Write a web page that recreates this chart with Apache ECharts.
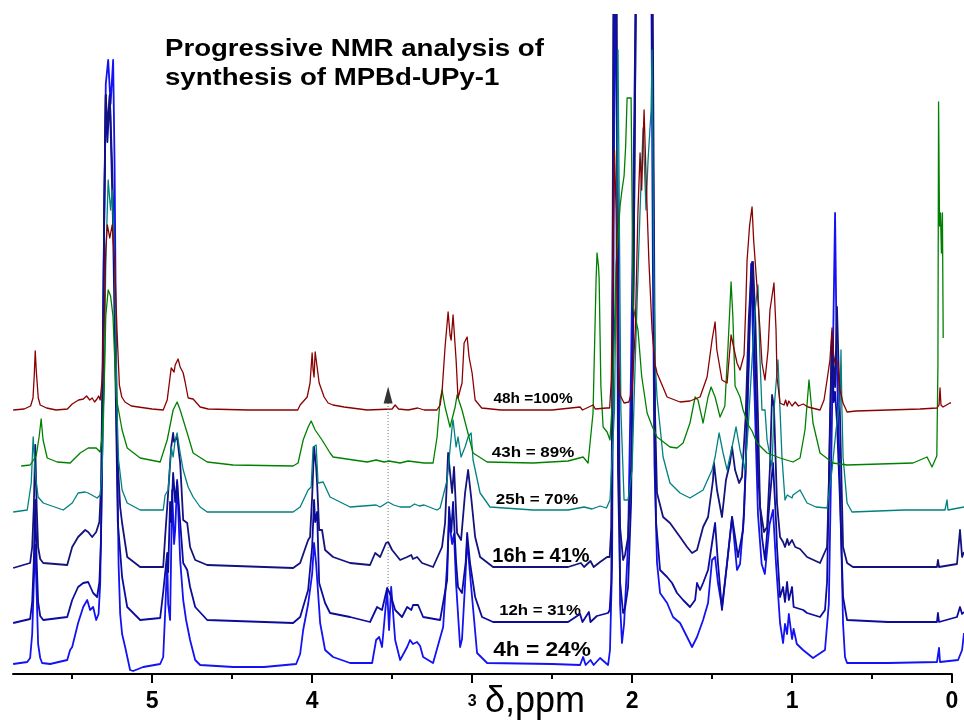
<!DOCTYPE html>
<html>
<head>
<meta charset="utf-8">
<script src="https://cdn.jsdelivr.net/npm/echarts@6/dist/echarts.min.js"></script>
<style>
  html, body { margin: 0; padding: 0; background: #fff; }
  #chart { width: 964px; height: 723px; }
</style>
</head>
<body>
<div id="chart"></div>
<script>
// Each trace: [chemical shift (ppm), intensity above that trace's own baseline]
const spec48h = [[5.869,0],[5.80,1],[5.76,4],[5.745,12],[5.737,35],[5.731,59],[5.724,38],[5.712,12],[5.70,5],[5.66,2],[5.60,0],[5.53,1],[5.50,6],[5.46,10],[5.43,11],[5.41,14],[5.39,10],[5.375,12],[5.36,8],[5.345,11],[5.335,14],[5.325,10],[5.313,30],[5.30,90],[5.29,160],[5.28,185],[5.265,172],[5.25,185],[5.235,150],[5.22,80],[5.205,25],[5.19,13],[5.17,8],[5.13,4],[5.0,1],[4.931,0],[4.906,10],[4.881,42],[4.875,42],[4.863,38],[4.856,45],[4.838,51],[4.825,43],[4.806,37],[4.794,28],[4.775,12],[4.744,11],[4.70,3],[4.65,1],[4.40,0],[4.09,0],[4.075,5],[4.031,13],[4.013,27],[4.0,57],[3.994,40],[3.988,33],[3.981,58],[3.969,60],[3.956,27],[3.944,28],[3.925,13],[3.90,7],[3.87,5],[3.80,3],[3.656,0],[3.50,1],[3.481,5],[3.46,1],[3.40,0],[3.34,2],[3.30,0],[3.22,0],[3.20,5],[3.188,18],[3.169,63],[3.15,98],[3.138,75],[3.131,70],[3.119,95],[3.10,50],[3.088,12],[3.063,27],[3.05,67],[3.031,73],[3.019,53],[3.00,37],[2.981,10],[2.94,2],[2.82,0],[2.50,0],[2.325,3],[2.31,0],[2.244,5],[2.23,1],[2.16,2],[2.14,2],[2.13,30],[2.12,150],[2.11,260],[2.10,200],[2.09,60],[2.075,15],[2.05,7],[2.02,8],[2.0,20],[1.98,80],[1.963,200],[1.95,257],[1.94,220],[1.925,300],[1.91,220],[1.895,150],[1.875,80],[1.856,45],[1.844,37],[1.781,13],[1.70,8],[1.638,9],[1.575,13],[1.531,33],[1.50,70],[1.481,88],[1.47,60],[1.438,30],[1.406,27],[1.381,75],[1.344,47],[1.325,40],[1.30,55],[1.29,100],[1.281,150],[1.265,185],[1.25,203],[1.24,170],[1.219,123],[1.20,80],[1.188,47],[1.169,30],[1.15,60],[1.138,100],[1.113,127],[1.10,80],[1.094,33],[1.075,7],[1.05,5],[1.04,10],[1.03,4],[1.02,9],[1.0,4],[0.98,8],[0.96,4],[0.93,6],[0.90,3],[0.825,0],[0.80,10],[0.781,30],[0.763,50],[0.75,82],[0.74,55],[0.731,47],[0.72,48],[0.713,48],[0.70,20],[0.681,7],[0.656,-2],[0.60,-1],[0.40,0],[0.20,1],[0.094,2],[0.081,5],[0.075,22],[0.069,5],[0.056,3],[0.013,7],[0.006,7]];

const spec43h = [[5.819,0],[5.763,1],[5.725,10],[5.706,30],[5.694,47],[5.682,26],[5.656,8],[5.594,4],[5.513,3],[5.45,13],[5.40,18],[5.35,18],[5.325,14],[5.313,30],[5.30,80],[5.29,150],[5.275,176],[5.26,170],[5.245,150],[5.235,110],[5.225,69],[5.188,36],[5.156,18],[5.075,8],[4.95,4],[4.906,26],[4.869,56],[4.844,64],[4.825,56],[4.781,33],[4.744,13],[4.656,4],[4.494,1],[4.119,0],[4.088,3],[4.056,26],[4.025,39],[4.006,45],[3.981,36],[3.938,26],[3.888,13],[3.869,9],[3.656,4],[3.60,6],[3.55,4],[3.52,5],[3.45,3],[3.40,5],[3.30,3],[3.244,3],[3.219,29],[3.20,66],[3.188,76],[3.169,59],[3.138,39],[3.106,59],[3.094,71],[3.063,56],[3.031,36],[2.994,13],[2.906,4],[2.619,3],[2.40,5],[2.306,9],[2.275,3],[2.244,53],[2.225,186],[2.219,213],[2.21,200],[2.206,188],[2.195,80],[2.181,39],[2.156,34],[2.138,26],[2.125,60],[2.113,120],[2.10,200],[2.075,260],[2.063,276],[2.05,290],[2.04,320],[2.031,368],[2.006,368],[1.994,160],[1.975,145],[1.963,136],[1.94,90],[1.906,53],[1.875,40],[1.844,29],[1.763,19],[1.719,18],[1.681,23],[1.638,43],[1.606,69],[1.588,66],[1.556,43],[1.525,69],[1.506,79],[1.481,69],[1.45,49],[1.42,60],[1.40,120],[1.381,184],[1.37,150],[1.356,80],[1.325,69],[1.306,56],[1.27,40],[1.25,35],[1.219,23],[1.156,13],[1.075,8],[0.994,4],[0.95,8],[0.919,36],[0.894,86],[0.869,43],[0.825,13],[0.744,3],[0.656,1],[0.244,3],[0.156,9],[0.125,-1],[0.095,10],[0.088,100],[0.084,364],[0.078,240],[0.072,253],[0.066,213],[0.06,253],[0.055,128]];

const spec25h = [[5.869,-2],[5.781,0],[5.756,27],[5.744,73],[5.731,37],[5.713,13],[5.681,7],[5.556,0],[5.50,7],[5.463,17],[5.419,18],[5.40,17],[5.388,15],[5.344,12],[5.325,15],[5.313,40],[5.30,120],[5.29,250],[5.275,330],[5.26,300],[5.25,320],[5.235,250],[5.22,100],[5.21,50],[5.188,20],[5.156,7],[5.075,0],[4.931,0],[4.919,15],[4.90,20],[4.881,63],[4.869,53],[4.856,70],[4.844,77],[4.825,57],[4.806,40],[4.775,23],[4.744,13],[4.70,3],[4.656,-2],[4.119,-2],[4.075,3],[4.025,20],[4.006,23],[3.994,63],[3.975,65],[3.963,27],[3.931,28],[3.888,13],[3.763,3],[3.60,5],[3.575,3],[3.525,8],[3.49,5],[3.45,3],[3.388,3],[3.36,6],[3.33,4],[3.30,5],[3.22,0],[3.20,2],[3.156,30],[3.125,83],[3.119,90],[3.10,63],[3.088,73],[3.069,53],[3.044,63],[3.025,73],[3.006,77],[2.994,50],[2.95,17],[2.888,3],[2.619,0],[2.40,0],[2.30,3],[2.25,1],[2.20,4],[2.16,2],[2.138,10],[2.11,100],[2.095,300],[2.088,460],[2.08,300],[2.07,100],[2.05,10],[2.025,10],[2.0,40],[1.98,150],[1.95,300],[1.931,382],[1.913,300],[1.90,350],[1.881,400],[1.875,460],[1.865,250],[1.856,150],[1.844,113],[1.806,53],[1.763,27],[1.70,17],[1.638,12],[1.556,20],[1.50,40],[1.481,53],[1.456,77],[1.431,57],[1.406,40],[1.375,63],[1.35,83],[1.325,60],[1.294,40],[1.275,80],[1.25,150],[1.231,200],[1.213,225],[1.20,150],[1.188,100],[1.169,100],[1.156,70],[1.125,43],[1.113,100],[1.088,150],[1.063,53],[1.044,10],[1.03,15],[1.0,12],[0.994,15],[0.95,20],[0.906,7],[0.85,3],[0.781,2],[0.75,40],[0.725,80],[0.70,110],[0.694,160],[0.688,100],[0.681,53],[0.656,7],[0.625,-2],[0.30,0],[0.044,0],[0.031,10],[0.025,0],[-0.075,3]];

const spec16h = [[5.869,-1],[5.763,4],[5.75,20],[5.74,60],[5.731,122],[5.722,60],[5.713,20],[5.70,8],[5.681,4],[5.531,2],[5.50,20],[5.463,30],[5.419,37],[5.40,35],[5.375,30],[5.35,35],[5.33,45],[5.32,80],[5.31,200],[5.30,350],[5.29,472],[5.28,440],[5.265,472],[5.25,400],[5.235,300],[5.22,120],[5.20,60],[5.188,44],[5.156,10],[5.075,0],[4.931,0],[4.919,30],[4.906,60],[4.881,120],[4.869,134],[4.863,125],[4.844,130],[4.825,104],[4.806,47],[4.781,44],[4.763,20],[4.731,7],[4.656,2],[4.119,-1],[4.075,4],[4.025,27],[4.013,30],[4.0,70],[3.988,120],[3.975,100],[3.969,84],[3.956,37],[3.938,37],[3.919,17],[3.869,10],[3.763,4],[3.638,2],[3.606,14],[3.575,10],[3.538,24],[3.525,25],[3.50,17],[3.45,7],[3.406,10],[3.38,12],[3.37,8],[3.344,10],[3.313,4],[3.244,0],[3.188,20],[3.169,44],[3.15,114],[3.125,74],[3.113,100],[3.094,34],[3.069,27],[3.044,74],[3.025,97],[3.006,70],[2.981,30],[2.95,10],[2.869,0],[2.40,0],[2.32,4],[2.30,0],[2.26,6],[2.24,0],[2.20,5],[2.156,10],[2.14,10],[2.13,40],[2.125,150],[2.119,450],[2.113,700],[2.10,700],[2.094,450],[2.088,150],[2.075,40],[2.056,7],[2.044,12],[2.025,30],[2.006,100],[1.99,300],[1.975,600],[1.963,700],[1.945,700],[1.938,600],[1.93,700],[1.90,700],[1.888,650],[1.875,700],[1.865,400],[1.856,150],[1.844,74],[1.806,50],[1.763,44],[1.70,30],[1.656,20],[1.625,14],[1.594,17],[1.556,40],[1.525,50],[1.494,87],[1.488,104],[1.469,77],[1.438,50],[1.413,87],[1.388,104],[1.375,120],[1.356,97],[1.331,84],[1.313,90],[1.29,150],[1.27,250],[1.256,290],[1.244,305],[1.23,250],[1.213,150],[1.20,60],[1.175,35],[1.156,40],[1.138,100],[1.125,172],[1.113,160],[1.094,64],[1.075,30],[1.056,25],[1.044,20],[1.03,28],[1.02,22],[1.0,27],[0.98,20],[0.95,18],[0.906,10],[0.825,4],[0.781,20],[0.77,80],[0.75,234],[0.74,200],[0.731,180],[0.719,260],[0.70,150],[0.681,20],[0.656,4],[0.619,0],[0.30,0],[0.094,0],[0.088,7],[0.081,0],[-0.031,3],[-0.05,37],[-0.063,10],[-0.075,15]];

const spec12h = [[5.869,-1],[5.763,3],[5.75,20],[5.74,60],[5.731,122],[5.722,60],[5.713,20],[5.70,6],[5.681,2],[5.531,5],[5.50,22],[5.463,35],[5.431,39],[5.40,40],[5.369,29],[5.344,25],[5.33,40],[5.32,80],[5.31,200],[5.30,400],[5.29,527],[5.28,480],[5.265,527],[5.245,400],[5.23,250],[5.215,100],[5.20,70],[5.188,45],[5.156,15],[5.075,2],[4.95,4],[4.931,30],[4.906,69],[4.90,50],[4.888,120],[4.881,100],[4.869,149],[4.856,120],[4.844,140],[4.825,100],[4.806,59],[4.781,52],[4.763,35],[4.731,15],[4.656,2],[4.119,-1],[4.075,5],[4.025,32],[4.0,75],[3.988,122],[3.981,100],[3.969,110],[3.956,39],[3.919,19],[3.888,9],[3.763,5],[3.638,0],[3.594,15],[3.563,12],[3.531,34],[3.519,30],[3.506,25],[3.481,12],[3.438,5],[3.406,15],[3.38,12],[3.369,17],[3.338,17],[3.306,5],[3.20,2],[3.156,42],[3.144,115],[3.13,90],[3.119,120],[3.10,60],[3.088,35],[3.063,29],[3.04,60],[3.031,89],[3.013,59],[2.981,25],[2.938,5],[2.869,0],[2.40,0],[2.325,8],[2.31,0],[2.27,10],[2.26,0],[2.22,6],[2.15,9],[2.14,12],[2.13,40],[2.125,150],[2.119,450],[2.113,700],[2.10,700],[2.094,450],[2.088,150],[2.075,40],[2.056,9],[2.044,14],[2.025,35],[2.006,120],[1.99,350],[1.975,650],[1.963,700],[1.88,700],[1.87,500],[1.86,200],[1.85,100],[1.825,52],[1.781,45],[1.75,39],[1.719,29],[1.681,22],[1.638,15],[1.606,22],[1.594,39],[1.575,32],[1.556,39],[1.525,52],[1.50,79],[1.481,99],[1.463,59],[1.438,12],[1.406,59],[1.375,105],[1.356,85],[1.338,65],[1.306,92],[1.29,150],[1.27,280],[1.25,360],[1.235,280],[1.213,150],[1.188,85],[1.169,62],[1.138,125],[1.119,159],[1.10,100],[1.094,75],[1.075,25],[1.056,35],[1.044,20],[1.031,40],[1.02,22],[1.0,35],[0.99,15],[0.93,12],[0.906,9],[0.825,5],[0.794,12],[0.781,40],[0.763,200],[0.75,289],[0.74,220],[0.731,230],[0.719,200],[0.70,120],[0.681,25],[0.656,2],[0.40,0],[0.094,0],[0.088,9],[0.081,0],[-0.031,5],[-0.05,15],[-0.063,8],[-0.075,10]];

const spec4h = [[5.869,0],[5.825,1],[5.781,2],[5.763,6],[5.75,30],[5.74,80],[5.731,119],[5.722,70],[5.713,20],[5.70,6],[5.688,1],[5.638,0],[5.531,4],[5.513,14],[5.50,17],[5.463,41],[5.431,57],[5.406,64],[5.388,54],[5.369,57],[5.35,44],[5.335,50],[5.325,80],[5.313,200],[5.30,450],[5.29,580],[5.275,604],[5.26,560],[5.244,604],[5.235,500],[5.225,300],[5.21,100],[5.20,50],[5.188,30],[5.169,17],[5.138,-6],[5.119,-7],[5.056,-3],[4.95,0],[4.931,7],[4.919,51],[4.906,104],[4.90,60],[4.888,44],[4.875,174],[4.863,120],[4.856,134],[4.844,184],[4.825,104],[4.806,64],[4.788,44],[4.763,24],[4.731,4],[4.70,-1],[4.494,-3],[4.30,-3],[4.10,0],[4.075,10],[4.056,34],[4.025,60],[4.0,90],[3.988,121],[3.975,100],[3.95,41],[3.919,14],[3.869,7],[3.763,1],[3.625,1],[3.60,24],[3.581,27],[3.563,17],[3.531,74],[3.519,34],[3.506,77],[3.481,24],[3.45,4],[3.406,17],[3.388,24],[3.37,20],[3.344,22],[3.325,18],[3.306,7],[3.244,1],[3.181,37],[3.156,100],[3.144,144],[3.125,120],[3.113,130],[3.10,80],[3.075,17],[3.063,25],[3.044,80],[3.031,124],[3.013,90],[2.969,11],[2.906,1],[2.50,0],[2.325,-1],[2.306,7],[2.29,-1],[2.26,4],[2.24,-1],[2.20,6],[2.15,-1],[2.138,14],[2.125,100],[2.113,500],[2.106,700],[2.094,700],[2.085,400],[2.075,60],[2.063,21],[2.05,40],[2.025,120],[2.006,300],[1.99,500],[1.975,700],[1.88,700],[1.87,400],[1.86,200],[1.844,101],[1.825,71],[1.781,61],[1.744,47],[1.70,41],[1.656,27],[1.625,17],[1.594,27],[1.556,44],[1.525,61],[1.50,104],[1.481,107],[1.463,81],[1.438,57],[1.406,101],[1.375,147],[1.344,94],[1.325,100],[1.30,150],[1.27,300],[1.256,400],[1.24,300],[1.213,150],[1.19,100],[1.17,90],[1.14,140],[1.119,154],[1.10,100],[1.075,41],[1.056,21],[1.044,40],[1.031,30],[1.02,50],[1.0,25],[0.99,35],[0.97,20],[0.931,14],[0.869,6],[0.794,14],[0.77,60],[0.75,250],[0.731,451],[0.72,300],[0.70,180],[0.681,40],[0.669,7],[0.656,1],[0.40,1],[0.094,2],[0.081,16],[0.075,2],[-0.038,4],[-0.063,14],[-0.075,31]];

const traceLabels = ['48h =100%', '43h = 89%', '25h = 70%', '16h = 41%', '12h = 31%', '4h = 24%'];
const tickValues = [0, 1, 2, 3, 4, 5];
const arrowShift = 3.525;   // ppm of the signal followed through the series

// Drawing setup: vertical lift of each trace in the stack, colours, widths
const traces = [
  { data: spec4h,  lift: 10,  color: '#1212f2', width: 1.8 },
  { data: spec12h, lift: 52,  color: '#0b0b9c', width: 1.8 },
  { data: spec16h, lift: 107, color: '#13137f', width: 1.8 },
  { data: spec25h, lift: 164, color: '#008080', width: 1.3 },
  { data: spec43h, lift: 208, color: '#008000', width: 1.3 },
  { data: spec48h, lift: 264, color: '#8b0000', width: 1.3 }
];
const FONT = 'Arial, "Liberation Sans", sans-serif';

const chart = echarts.init(document.getElementById('chart'), null, { renderer: 'canvas' });

const series = traces.map(t => ({
  type: 'line',
  xAxisIndex: 0,
  yAxisIndex: 0,
  data: t.data.map(([ppm, v]) => [ppm, v + t.lift]),
  showSymbol: false,
  symbol: 'none',
  clip: true,
  silent: true,
  lineStyle: { color: t.color, width: t.width, join: 'round' }
}));

// dotted guide and arrow head at the tracked signal
series.push({
  type: 'line',
  xAxisIndex: 0,
  yAxisIndex: 0,
  data: [[arrowShift, 87], [arrowShift, 271]],
  showSymbol: false,
  symbol: 'none',
  silent: true,
  lineStyle: { color: '#777', width: 1, type: [1, 2] },
  z: 5
});
series.push({
  type: 'scatter',
  xAxisIndex: 0,
  yAxisIndex: 0,
  data: [[arrowShift, 279]],
  symbol: 'triangle',
  symbolSize: [9, 17],
  itemStyle: { color: '#000' },
  silent: true,
  z: 6
});

// [centre x, centre y, font size, horizontal stretch] for each trace caption
const labelPos = [[533, 399, 14, 1.1], [533, 453, 15, 1.13], [537, 500, 15, 1.13], [541, 556, 20, 1.0], [540, 611, 15, 1.12], [542, 650, 21, 1.08]];

function headline(text, y) {
  return { type: 'text', x: 165, y: y, scaleX: 1.2, style: { text: text, font: 'bold 23px ' + FONT, fill: '#000', verticalAlign: 'middle' } };
}

chart.setOption({
  animation: false,
  backgroundColor: '#fff',
  grid: [
    { left: 13, right: 0, top: 15, bottom: 49 },
    { left: 13, right: 12, top: 15, bottom: 49 }
  ],
  xAxis: [
    { gridIndex: 0, type: 'value', min: -0.075, max: 5.87, inverse: true, show: false },
    {
      gridIndex: 1, type: 'value', min: 0, max: 5.87, inverse: true,
      axisLine: { show: true, lineStyle: { color: '#000', width: 2 } },
      axisTick: { show: true, length: 9, lineStyle: { color: '#000', width: 2 }, customValues: tickValues },
      minorTick: { show: true, splitNumber: 2, length: 5, lineStyle: { color: '#000', width: 2 } },
      axisLabel: {
        customValues: tickValues,
        margin: 16,
        color: '#000',
        fontFamily: FONT,
        fontWeight: 'bold',
        fontSize: 23,
        formatter: v => (v === 3 ? '{s|3}' : String(v)),
        rich: { s: { fontSize: 16, fontWeight: 'bold', fontFamily: FONT, color: '#000', lineHeight: 23 } }
      },
      splitLine: { show: false },
      minorSplitLine: { show: false }
    }
  ],
  yAxis: [
    { gridIndex: 0, type: 'value', min: 0, max: 659, show: false },
    { gridIndex: 1, type: 'value', min: 0, max: 659, show: false }
  ],
  series: series,
  graphic: [
    headline('Progressive NMR analysis of', 50),
    headline('synthesis of MPBd-UPy-1', 79),
    { type: 'text', x: 485, y: 702, style: { text: 'δ,ppm', font: '36px ' + FONT, fill: '#000', verticalAlign: 'middle' } }
  ].concat(traceLabels.map((txt, i) => ({
    type: 'text',
    x: labelPos[i][0],
    y: labelPos[i][1],
    scaleX: labelPos[i][3],
    style: { text: txt, font: 'bold ' + labelPos[i][2] + 'px ' + FONT, fill: '#000', align: 'center', verticalAlign: 'middle' }
  })))
});
</script>
</body>
</html>
